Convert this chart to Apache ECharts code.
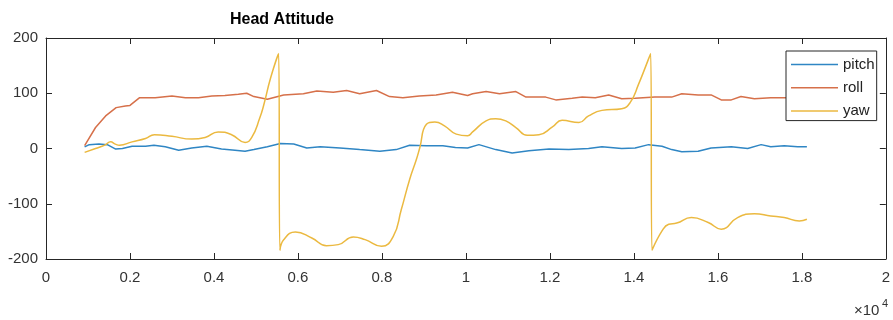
<!DOCTYPE html>
<html>
<head>
<meta charset="utf-8">
<script src="https://cdn.jsdelivr.net/npm/echarts@6/dist/echarts.min.js"></script>
<style>html,body{margin:0;padding:0;background:#fff}#c{width:893px;height:320px}</style>
</head>
<body>
<div id="c"></div>
<script>
// x in units of 1e4 samples
const pitchX = [0.092,0.103,0.126,0.146,0.166,0.182,0.205,0.237,0.257,0.284,0.316,0.347,0.383,0.418,0.45,0.474,0.495,0.527,0.558,0.59,0.621,0.653,0.70,0.747,0.795,0.834,0.866,0.906,0.945,0.975,1.004,1.031,1.071,1.11,1.15,1.198,1.245,1.292,1.324,1.371,1.403,1.435,1.467,1.49,1.514,1.553,1.584,1.632,1.671,1.703,1.726,1.758,1.79,1.812];
const pitchV = [3,7,8,7,-1,0,4,4,6,3,-3,1,4,-1,-3,-5,-2,3,9,8,1,3,1,-2,-5,-2,6,5,5,2,1,7,-2,-8,-4,-1,-2,0,3,0,1,7,4,-2,-6,-5,1,3,0,7,3,5,3,3];

const rollX = [0.092,0.118,0.142,0.167,0.189,0.2,0.223,0.26,0.30,0.332,0.363,0.395,0.426,0.458,0.478,0.495,0.527,0.566,0.613,0.645,0.684,0.716,0.747,0.787,0.818,0.85,0.889,0.929,0.968,1.004,1.016,1.048,1.08,1.119,1.143,1.19,1.214,1.253,1.277,1.308,1.34,1.371,1.403,1.45,1.49,1.514,1.553,1.584,1.608,1.632,1.655,1.687,1.726,1.753,1.78,1.812];
const rollV = [5,38,59,74,77,78,92,92,95,92,92,95,96,98,100,94,89,97,99,104,102,105,99,105,94,92,95,97,102,96,99,103,99,103,93,93,88,91,93,92,97,90,91,93,93,99,97,97,88,88,94,90,92,92,92,92];

const yawX = [0.092,0.118,0.14,0.154,0.165,0.175,0.205,0.237,0.258,0.3,0.347,0.379,0.41,0.442,0.474,0.49,0.509,0.519,0.535,0.554,0.557,0.566,0.594,0.633,0.668,0.696,0.732,0.76,0.799,0.827,0.846,0.866,0.882,0.89,0.906,0.926,0.949,0.977,1.004,1.016,1.048,1.071,1.095,1.119,1.146,1.174,1.206,1.229,1.269,1.292,1.324,1.371,1.391,1.411,1.44,1.443,1.467,1.483,1.502,1.537,1.577,1.608,1.647,1.687,1.726,1.758,1.794,1.812];
const yawV = [-7,0,6,12,8,6,12,18,25,22,17,20,30,25,11,20,55,80,128,172,-184,-165,-151,-162,-176,-174,-160,-165,-177,-159,-111,-56,-20,1,44,48,41,26,23,30,50,54,50,38,24,25,39,51,47,59,69,72,83,116,172,-184,-149,-137,-135,-125,-134,-146,-125,-118,-122,-125,-131,-128];

const xTicks = [0,0.2,0.4,0.6,0.8,1,1.2,1.4,1.6,1.8,2];
const yTicks = [-200,-100,0,100,200];
const seriesNames = ['pitch','roll','yaw'];
const colors = ['#2f86c4','#d6704a','#ebb940'];

const zip = (xs, ys) => xs.map((x, i) => [x, ys[i]]);
const FONT = "'Liberation Sans', Arial, sans-serif";
const axisCol = '#262626';

const chart = echarts.init(document.getElementById('c'));
const xBase = {
  type: 'value', min: xTicks[0], max: xTicks[xTicks.length-1], interval: 0.2,
  axisLine: {show: true, onZero: false, lineStyle: {color: axisCol, width: 1}},
  axisTick: {show: true, inside: true, length: 6, lineStyle: {color: axisCol}},
  splitLine: {show: false}
};
const yBase = {
  type: 'value', min: yTicks[0], max: yTicks[yTicks.length-1], interval: 100,
  axisLine: {show: true, onZero: false, lineStyle: {color: axisCol, width: 1}},
  axisTick: {show: true, inside: true, length: 6, lineStyle: {color: axisCol}},
  splitLine: {show: false}
};
chart.setOption({
  animation: false,
  backgroundColor: '#fff',
  grid: {left: 46, right: 3, top: 38, bottom: 61},
  graphic: [
    {type: 'text', left: 230, top: 12, style: {text: 'Head Attitude', font: "bold 16px " + FONT, fill: '#000'}},
    {type: 'text', left: 854, top: 303, style: {text: '\u00d710', font: "15px " + FONT, fill: '#333'}},
    {type: 'text', left: 882, top: 298, style: {text: '4', font: "11px " + FONT, fill: '#333'}}
  ],
  legend: {
    orient: 'vertical', left: 786, top: 51,
    data: seriesNames.map(n => ({name: n, icon: 'rect'})),
    itemWidth: 47, itemHeight: 1.5, itemGap: 8.3,
    padding: [6, 2, 2, 5],
    borderColor: axisCol, borderWidth: 1, backgroundColor: '#fff',
    textStyle: {fontFamily: FONT, fontSize: 15, color: '#222', lineHeight: 15}
  },
  xAxis: [
    Object.assign({}, xBase, {position: 'bottom',
      axisLabel: {show: true, margin: 11, fontFamily: FONT, fontSize: 15, color: '#333',
        formatter: v => String(parseFloat(v.toFixed(1)))}}),
    Object.assign({}, xBase, {position: 'top', axisLabel: {show: false}})
  ],
  yAxis: [
    Object.assign({}, yBase, {position: 'left',
      axisLabel: {show: true, margin: 8, fontFamily: FONT, fontSize: 15, color: '#333'}}),
    Object.assign({}, yBase, {position: 'right', axisLabel: {show: false}})
  ],
  series: [
    {name: seriesNames[0], type: 'line', data: zip(pitchX, pitchV), showSymbol: false, symbol: 'none',
      lineStyle: {color: colors[0], width: 1.5}, itemStyle: {color: colors[0]}},
    {name: seriesNames[1], type: 'line', data: zip(rollX, rollV), showSymbol: false, symbol: 'none',
      lineStyle: {color: colors[1], width: 1.5}, itemStyle: {color: colors[1]}},
    {name: seriesNames[2], type: 'line', data: zip(yawX, yawV), showSymbol: false, symbol: 'none',
      smooth: 0.5,
      lineStyle: {color: colors[2], width: 1.5}, itemStyle: {color: colors[2]}}
  ]
});
</script>
</body>
</html>
